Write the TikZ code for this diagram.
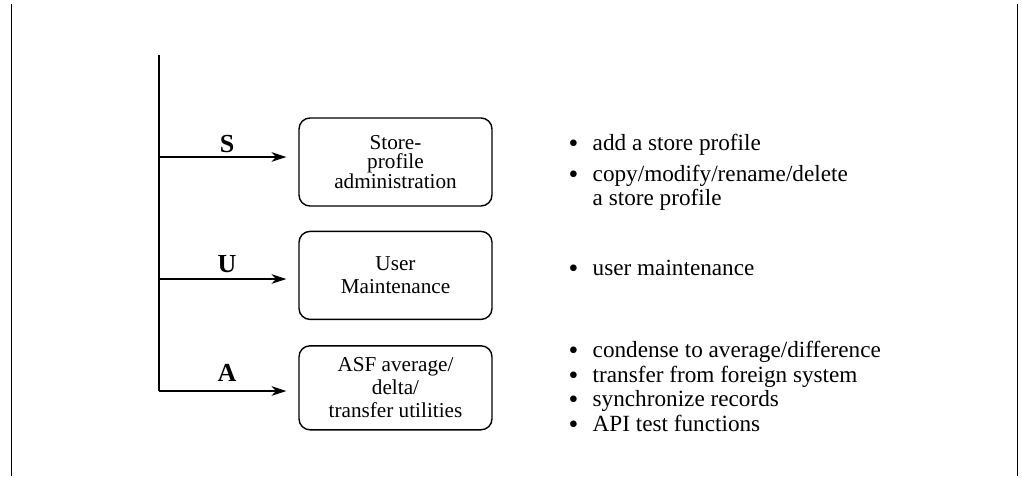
\documentclass[tikz,border=0pt]{standalone}
\usepackage{fontspec}
\setmainfont{Liberation Serif}
\usetikzlibrary{arrows.meta,positioning}
\newcommand{\bul}{\raisebox{-1pt}{\scalebox{1.2}{\textbullet}}}

\begin{document}
\begin{tikzpicture}[x=0.5pt,y=-0.5pt,line width=0.7pt,
  b/.style={draw,rounded corners=5.5pt,minimum width=96.5pt,minimum height=44pt,
            inner sep=2pt,align=center,font=\fontsize{10.6}{11.5}\selectfont},
  ar/.style={-{Stealth[length=2.6mm,width=1.7mm,inset=0.8mm]},shorten >=6pt},
  lbl/.style={font=\fontsize{13}{14}\selectfont\bfseries,anchor=base},
  lst/.style={anchor=north west,inner sep=0pt,align=left,
              font=\fontsize{11.6}{12.25}\selectfont},
]
\useasboundingbox (0,0) rectangle (1022,477);
% frame
\draw (11.5,4) -- (11.5,476);
\draw (1017.5,4) -- (1017.5,476);

% boxes
\node[b,font=\fontsize{10.6}{9.9}\selectfont] (store) at (395.5,162)
  {Store-\\profile\\administration};
\node[b,below=12pt of store] (user) {User\\Maintenance};
\node[b,below=12.5pt of user,minimum height=42pt] (asf)
  {ASF average/\\delta/\\transfer utilities};

% trunk and branches
\coordinate (top) at (159,55);
\coordinate (s) at (159,157);
\coordinate (u) at (159,279);
\coordinate (a) at (159,391);
\draw (top) -- (a);
\draw[ar] (s) -- (s -| store.west);
\draw[ar] (u) -- (u -| user.west);
\draw[ar] (a) -- (a -| asf.west);

\node[lbl] (ls) at (227,152) {S};
\node[lbl] (lu) at (227,272) {U};
\node[lbl] (la) at (227,381) {A};

% what each one does
\node[lst] (dos) at (568,133) {\begin{tabular}{@{}p{12pt}@{}l@{}}
  \bul & add a store profile\\[3pt]
  \bul & copy/modify/rename/delete\\
       & a store profile
\end{tabular}};
\node[lst] (dou) at (568,258) {\begin{tabular}{@{}p{12pt}@{}l@{}}
  \bul & user maintenance
\end{tabular}};
\node[lst] (doa) at (568,340) {\begin{tabular}{@{}p{12pt}@{}l@{}}
  \bul & condense to average/difference\\
  \bul & transfer from foreign system\\
  \bul & synchronize records\\
  \bul & API test functions
\end{tabular}};
\end{tikzpicture}
\end{document}
